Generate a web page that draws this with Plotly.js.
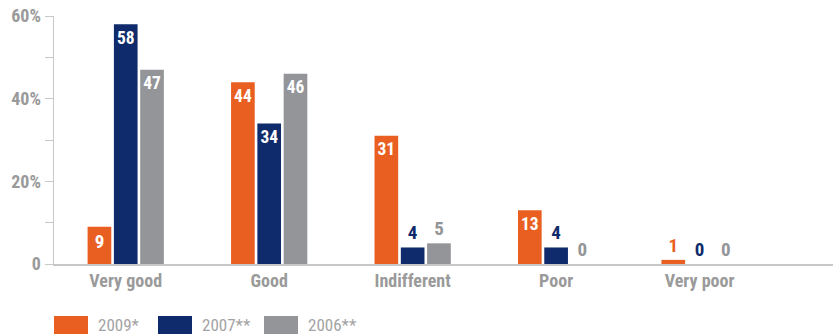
<!DOCTYPE html>
<html>
<head>
<meta charset="utf-8">
<script src="https://cdn.plot.ly/plotly-3.0.1.min.js"></script>
<style>html,body{margin:0;padding:0;background:#fff;}#chart{width:833px;height:336px;}</style>
</head>
<body>
<div id="chart"></div>
<script>
const categories = ["Very good", "Good", "Indifferent", "Poor", "Very poor"];
const seriesNames = ["2009*", "2007**", "2006**"];
const values2009 = [9, 44, 31, 13, 1];
const values2007 = [58, 34, 4, 4, 0];
const values2006 = [47, 46, 5, 0, 0];
const colors = ["#E95F22", "#0F2B6B", "#939598"];
const yTickVals = [0, 10, 20, 30, 40, 50, 60];
const yTickText = ["0", "", "20%", "", "40%", "", "60%"];

const FONT = "'Liberation Sans Narrow', 'Roboto Condensed', Roboto, 'Liberation Sans', sans-serif";
const allSeries = [values2009, values2007, values2006];

const traces = allSeries.map((vals, i) => ({
  type: "bar",
  name: seriesNames[i],
  x: categories,
  y: vals,
  marker: {color: colors[i]},
  text: vals.map(String),
  textposition: vals.map(v => v >= 9 ? "inside" : "outside"),
  insidetextanchor: "end",
  insidetextfont: {color: "#ffffff", size: 19, family: FONT, weight: "bold"},
  outsidetextfont: {color: colors[i], size: 19, family: FONT, weight: "bold"},
  cliponaxis: false,
  textangle: 0,
  showlegend: false,
  hoverinfo: "skip"
}));

const shapes = [];
const annotations = [];
const legendX = [54, 158, 264];
seriesNames.forEach((n, i) => {
  shapes.push({type: "rect", xref: "paper", yref: "paper",
    x0: (legendX[i] - 54) / 779, x1: (legendX[i] + 34 - 54) / 779,
    y0: -(316 - 264) / 248, y1: -(334 - 264) / 248,
    fillcolor: colors[i], line: {width: 0}});
  annotations.push({xref: "paper", yref: "paper",
    x: (legendX[i] + 42 - 54) / 779, y: -(325 - 264) / 248,
    xanchor: "left", yanchor: "middle", showarrow: false,
    text: n, font: {family: FONT, size: 17, color: "#a3a3a3"}});
});

const layout = {
  width: 833, height: 336,
  margin: {l: 54, r: 0, t: 16, b: 72},
  paper_bgcolor: "#fff", plot_bgcolor: "#fff",
  barmode: "group",
  bargap: 0.45,
  bargroupgap: 0.1,
  showlegend: false,
  xaxis: {
    type: "category",
    range: [-0.5, 4.93],
    showgrid: false, zeroline: false,
    showline: true, linecolor: "#c8c8c8", linewidth: 1.5,
    ticks: "",
    tickfont: {family: FONT, size: 18, color: "#9a9a9a", weight: "bold"},
    fixedrange: true
  },
  yaxis: {
    range: [0, 60],
    tickvals: yTickVals,
    ticktext: yTickText,
    showgrid: false, zeroline: false,
    showline: true, linecolor: "#c8c8c8", linewidth: 1.5,
    ticks: "outside", ticklen: 8, tickcolor: "#c8c8c8", tickwidth: 1,
    tickfont: {family: FONT, size: 18, color: "#9a9a9a", weight: "bold"},
    fixedrange: true
  },
  shapes: shapes,
  annotations: annotations,
  uniformtext: {mode: false}
};

Plotly.newPlot("chart", traces, layout, {displayModeBar: false, staticPlot: true});
</script>
</body>
</html>
